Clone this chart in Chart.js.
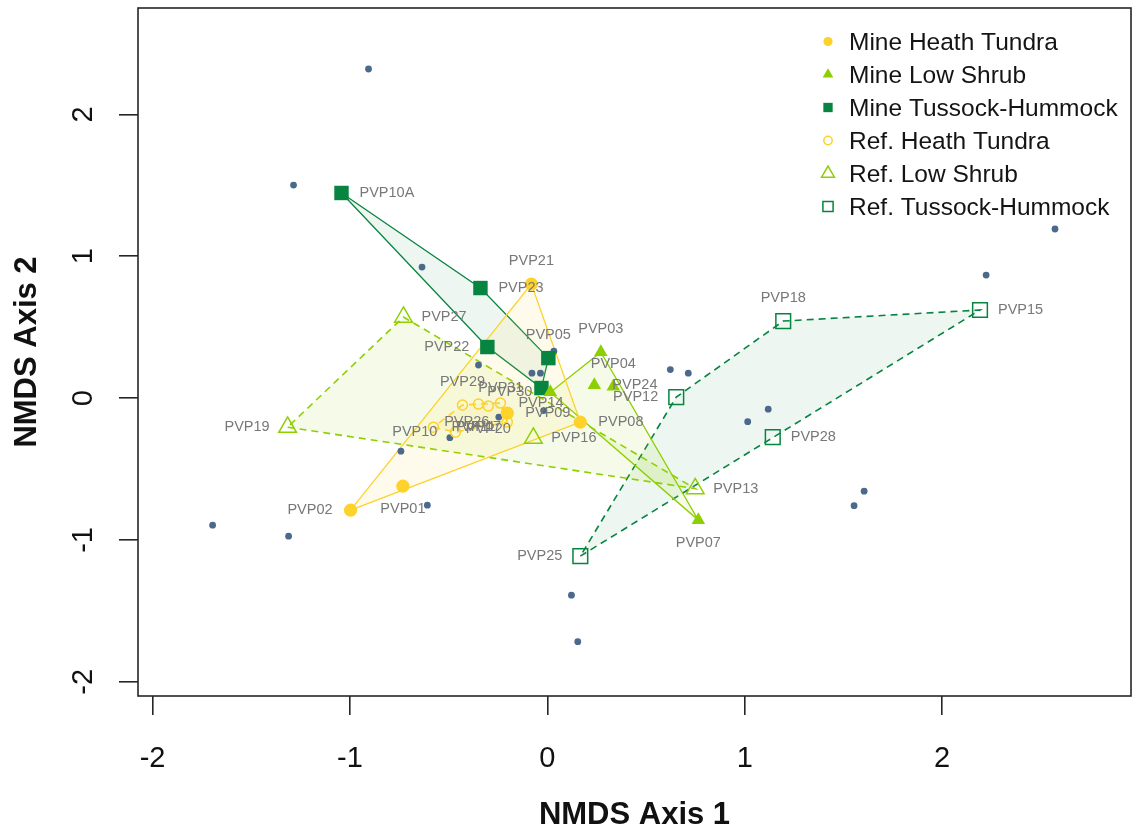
<!DOCTYPE html>
<html>
<head>
<meta charset="utf-8">
<script src="https://cdn.jsdelivr.net/npm/chart.js@4.4.1/dist/chart.umd.min.js"></script>
<style>
  html, body { margin: 0; padding: 0; background: #ffffff; }
  canvas { display: block; }
</style>
</head>
<body>
<canvas id="nmds" width="1132" height="829"></canvas>
<script>
// ---- NMDS site scores (axis 1, axis 2) by habitat group ----
const mineHeathNames = ['PVP02', 'PVP01', 'PVP21', 'PVP08', 'PVP09'];
const mineHeathX     = [-0.997, -0.732, -0.081, 0.167, -0.203];
const mineHeathY     = [-0.790, -0.621, 0.804, -0.169, -0.106];

const mineShrubNames = ['PVP03', 'PVP24', 'PVP04', 'PVP07', 'PVP30'];
const mineShrubX     = [0.271, 0.238, 0.334, 0.765, 0.015];
const mineShrubY     = [0.324, 0.092, 0.081, -0.860, 0.042];

const mineTussockNames = ['PVP10A', 'PVP23', 'PVP22', 'PVP05', 'PVP31'];
const mineTussockX     = [-1.043, -0.339, -0.304, 0.005, -0.030];
const mineTussockY     = [1.446, 0.776, 0.360, 0.282, 0.071];

const refHeathNames = ['PVP29', 'PVP14', 'PVP11', 'PVP17', 'PVP20', 'PVP10', 'PVP26'];
const refHeathX     = [-0.430, -0.238, -0.577, -0.349, -0.299, -0.466, -0.203];
const refHeathY     = [-0.049, -0.035, -0.205, -0.042, -0.056, -0.240, -0.169];

const refShrubNames = ['PVP27', 'PVP19', 'PVP16', 'PVP13'];
const refShrubX     = [-0.729, -1.316, -0.071, 0.749];
const refShrubY     = [0.571, -0.205, -0.282, -0.638];

const refTussockNames = ['PVP18', 'PVP15', 'PVP28', 'PVP25', 'PVP12'];
const refTussockX     = [1.195, 2.192, 1.142, 0.167, 0.653];
const refTussockY     = [0.543, 0.621, -0.275, -1.114, 0.007];

// ---- species scores ----
const speciesX = [-0.906, -1.286, -0.635, 2.572, 2.223, 0.623, 0.714, 1.015, 1.119, 1.605, 1.554,
                  -1.696, -1.311, -0.608, -0.742, 0.122, 0.154, -0.349, -0.078, -0.035, 0.033,
                  -0.019, -0.246, -0.494];
const speciesY = [2.320, 1.502, 0.924, 1.192, 0.867, 0.201, 0.176, -0.166, -0.078, -0.656, -0.758,
                  -0.896, -0.973, -0.755, -0.374, -1.389, -1.717, 0.233, 0.176, 0.176, 0.331,
                  -0.088, -0.134, -0.279];

// ---- axis ticks ----
const xTicks = [-2, -1, 0, 1, 2];
const yTicks = [-2, -1, 0, 1, 2];

// side of each point on which its site label is written
const labelSides = {
  mineHeath:   ['left', 'below', 'above', 'right', 'right'],
  mineShrub:   ['above', 'right', 'above', 'below', 'left'],
  mineTussock: ['right', 'right', 'left', 'above', 'left'],
  refHeath:    ['above', 'right', 'right', 'below', 'below', 'left', 'left'],
  refShrub:    ['right', 'left', 'right', 'right'],
  refTussock:  ['above', 'right', 'right', 'left', 'left']
};

const GOLD = '#FDD22B';
const LIME = '#8DCF00';
const DKGREEN = '#07843F';
const SPECIES = '#4B6A8B';
const FONT = '"Liberation Sans", Arial, Helvetica, sans-serif';

const toPts = (xs, ys) => xs.map((v, i) => ({ x: v, y: ys[i] }));

// convex hull (monotone chain), closed by repeating the first vertex
function hull(xs, ys) {
  const p = toPts(xs, ys).sort((a, b) => a.x - b.x || a.y - b.y);
  const cross = (o, a, b) => (a.x - o.x) * (b.y - o.y) - (a.y - o.y) * (b.x - o.x);
  const lower = [], upper = [];
  for (const q of p) {
    while (lower.length >= 2 && cross(lower[lower.length - 2], lower[lower.length - 1], q) <= 0) lower.pop();
    lower.push(q);
  }
  for (let i = p.length - 1; i >= 0; i--) {
    const q = p[i];
    while (upper.length >= 2 && cross(upper[upper.length - 2], upper[upper.length - 1], q) <= 0) upper.pop();
    upper.push(q);
  }
  upper.pop(); lower.pop();
  const h = lower.concat(upper);
  h.push({ x: h[0].x, y: h[0].y });
  return h;
}

function rgba(hex, a) {
  const n = parseInt(hex.slice(1), 16);
  return `rgba(${(n >> 16) & 255},${(n >> 8) & 255},${n & 255},${a})`;
}

function hullSet(xs, ys, color, dashed, alpha) {
  return {
    type: 'line',
    data: hull(xs, ys),
    showLine: true,
    borderColor: color,
    borderWidth: dashed ? 1.6 : 1.3,
    borderDash: dashed ? [7, 5] : [],
    backgroundColor: rgba(color, alpha),
    fill: 'shape',
    tension: 0,
    pointRadius: 0,
    order: 10
  };
}

function siteSet(label, xs, ys, names, sides, color, style, radius, filled) {
  return {
    label,
    type: 'scatter',
    data: toPts(xs, ys),
    siteLabels: names,
    labelSide: sides,
    pointStyle: style,
    pointRadius: radius,
    pointBorderWidth: filled ? 0 : 1.5,
    pointBackgroundColor: filled ? color : 'rgba(0,0,0,0)',
    pointBorderColor: color,
    legendRadius: filled ? (style === 'rect' ? 6.6 : style === 'triangle' ? 6.2 : 4.6)
                         : (style === 'rect' ? 7.2 : style === 'triangle' ? 7.4 : 4.2),
    order: 1
  };
}

const datasets = [
  hullSet(mineHeathX, mineHeathY, GOLD, false, 0.09),
  hullSet(mineShrubX, mineShrubY, LIME, false, 0.09),
  hullSet(mineTussockX, mineTussockY, DKGREEN, false, 0.07),
  hullSet(refHeathX, refHeathY, GOLD, true, 0.09),
  hullSet(refShrubX, refShrubY, LIME, true, 0.09),
  hullSet(refTussockX, refTussockY, DKGREEN, true, 0.07),
  {
    type: 'scatter',
    data: toPts(speciesX, speciesY),
    pointStyle: 'circle',
    pointRadius: 3.4,
    pointBorderWidth: 0,
    pointBackgroundColor: SPECIES,
    order: 5
  },
  siteSet('Mine Heath Tundra', mineHeathX, mineHeathY, mineHeathNames, labelSides.mineHeath, GOLD, 'circle', 6.6, true),
  siteSet('Mine Low Shrub', mineShrubX, mineShrubY, mineShrubNames, labelSides.mineShrub, LIME, 'triangle', 7.8, true),
  siteSet('Mine Tussock-Hummock', mineTussockX, mineTussockY, mineTussockNames, labelSides.mineTussock, DKGREEN, 'rect', 10.2, true),
  siteSet('Ref. Heath Tundra', refHeathX, refHeathY, refHeathNames, labelSides.refHeath, GOLD, 'circle', 5, false),
  siteSet('Ref. Low Shrub', refShrubX, refShrubY, refShrubNames, labelSides.refShrub, LIME, 'triangle', 10.2, false),
  siteSet('Ref. Tussock-Hummock', refTussockX, refTussockY, refTussockNames, labelSides.refTussock, DKGREEN, 'rect', 10.4, false)
];

// frame, tick labels, axis titles, site labels and legend
const decorations = {
  id: 'decorations',
  afterDatasetsDraw(chart) {
    const ctx = chart.ctx;
    ctx.save();
    ctx.font = '14.5px ' + FONT;
    ctx.fillStyle = '#787878';
    ctx.textBaseline = 'middle';
    chart.data.datasets.forEach((ds, i) => {
      if (!ds.siteLabels) return;
      const meta = chart.getDatasetMeta(i);
      meta.data.forEach((pt, j) => {
        const side = ds.labelSide[j];
        let tx = pt.x, ty = pt.y;
        if (side === 'right') { ctx.textAlign = 'left'; tx += 18; }
        else if (side === 'left') { ctx.textAlign = 'right'; tx -= 18; }
        else if (side === 'above') { ctx.textAlign = 'center'; ty -= 23; }
        else { ctx.textAlign = 'center'; ty += 23; }
        ctx.fillText(ds.siteLabels[j], tx, ty);
      });
    });
    ctx.restore();
  },
  afterDraw(chart) {
    const { ctx, chartArea: a, scales } = chart;
    ctx.save();
    // box around the plotting region
    ctx.strokeStyle = '#262626';
    ctx.lineWidth = 1.6;
    ctx.strokeRect(a.left, a.top, a.right - a.left, a.bottom - a.top);

    // tick labels
    ctx.fillStyle = '#111111';
    ctx.font = '29px ' + FONT;
    ctx.textAlign = 'center';
    ctx.textBaseline = 'alphabetic';
    scales.x.ticks.forEach(t => {
      ctx.fillText(String(t.value), scales.x.getPixelForValue(t.value), 766.5);
    });
    scales.y.ticks.forEach(t => {
      ctx.save();
      ctx.translate(92, scales.y.getPixelForValue(t.value));
      ctx.rotate(-Math.PI / 2);
      ctx.fillText(String(t.value), 0, 0);
      ctx.restore();
    });

    // axis titles
    ctx.font = 'bold 31px ' + FONT;
    ctx.fillText('NMDS Axis 1', (a.left + a.right) / 2, 824);
    ctx.save();
    ctx.translate(36, (a.top + a.bottom) / 2);
    ctx.rotate(-Math.PI / 2);
    ctx.fillText('NMDS Axis 2', 0, 0);
    ctx.restore();

    // legend
    const sites = chart.data.datasets.filter(d => d.siteLabels);
    ctx.font = '24.5px ' + FONT;
    ctx.textAlign = 'left';
    sites.forEach((ds, k) => {
      const cy = 41.5 + k * 33;
      ctx.fillStyle = ds.pointBackgroundColor;
      ctx.strokeStyle = ds.pointBorderColor;
      ctx.lineWidth = ds.pointBorderWidth > 0 ? 1.5 : 0;
      Chart.helpers.drawPoint(ctx, {
        pointStyle: ds.pointStyle,
        radius: ds.legendRadius,
        rotation: 0,
        borderWidth: ds.pointBorderWidth
      }, 828, cy);
      ctx.fillStyle = '#141414';
      ctx.fillText(ds.label, 849, cy + 8.6);
    });
    ctx.restore();
  }
};

new Chart(document.getElementById('nmds'), {
  type: 'scatter',
  data: { datasets },
  options: {
    responsive: false,
    animation: false,
    devicePixelRatio: 1,
    events: [],
    layout: { autoPadding: false, padding: { top: 8, right: 1, left: 0, bottom: 0 } },
    plugins: { legend: { display: false }, tooltip: { enabled: false } },
    scales: {
      x: {
        type: 'linear',
        min: -2.074,
        max: 2.957,
        afterBuildTicks: s => { s.ticks = xTicks.map(v => ({ value: v })); },
        afterFit: s => { s.height = 133; },
        ticks: { display: false },
        border: { display: false },
        grid: { drawOnChartArea: false, drawTicks: true, tickLength: 19, color: '#262626', lineWidth: 1.6 }
      },
      y: {
        type: 'linear',
        min: -2.10,
        max: 2.75,
        afterBuildTicks: s => { s.ticks = yTicks.map(v => ({ value: v })); },
        afterFit: s => { s.width = 138; },
        ticks: { display: false },
        border: { display: false },
        grid: { drawOnChartArea: false, drawTicks: true, tickLength: 19, color: '#262626', lineWidth: 1.6 }
      }
    }
  },
  plugins: [decorations]
});
</script>
</body>
</html>
